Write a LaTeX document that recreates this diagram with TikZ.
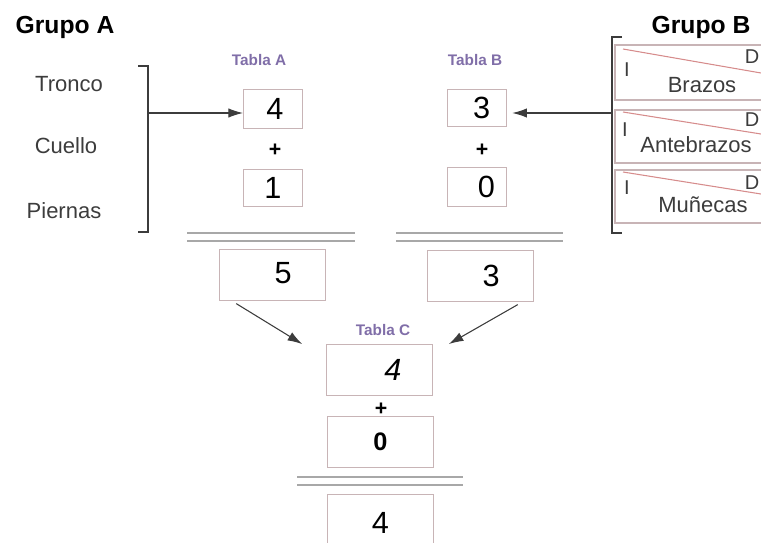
\documentclass[tikz,border=0pt]{standalone}
\usepackage{fontspec}
\setmainfont{Liberation Sans}
\usetikzlibrary{arrows.meta}
\definecolor{boxpink}{RGB}{200,180,182}
\definecolor{tablapurple}{RGB}{128,110,168}
\definecolor{rulegray}{RGB}{168,168,168}
\definecolor{diagred}{RGB}{214,140,140}
\definecolor{labelgray}{RGB}{60,60,60}
\begin{document}
\begin{tikzpicture}[x=0.75pt,y=-0.75pt, line join=miter,
grupo/.style={font=\fontsize{18.5}{20}\selectfont\bfseries,text=black},
parte/.style={font=\fontsize{16.5}{18}\selectfont,text=labelgray},
tabla/.style={font=\fontsize{11.5}{14}\selectfont\bfseries,text=tablapurple},
plus/.style={font=\fontsize{16}{18}\selectfont\bfseries,inner sep=0pt},
numbox/.style={draw=boxpink,line width=0.9pt,minimum width=44pt,minimum height=29pt,inner sep=0pt,font=\fontsize{23}{25}\selectfont},
sumbox/.style={numbox,minimum width=79pt,minimum height=38pt},
bracket/.style={line width=1.6pt,labelgray},
doble/.style={rulegray,line width=2pt},
flecha/.style={-{Latex[length=11pt,width=7pt]},line width=0.8pt,labelgray},
fila/.style={draw=boxpink,line width=0.8pt},
diag/.style={diagred,line width=0.8pt},
lado/.style={font=\fontsize{15}{17}\selectfont,text=labelgray,inner sep=0pt}]
\useasboundingbox (0,0) rectangle (761,543);

% grupo A
\node[grupo] (grupoA) at (65,27) {Grupo A};
\begin{scope}[every node/.style={parte}]
\node (tronco) at (69,84) {Tronco};
\node (cuello) at (66,146) {Cuello};
\node (piernas) at (64,211) {Piernas};
\end{scope}
\draw[bracket] (138,66) -- (148,66) -- (148,232) -- (138,232);
\coordinate (brA) at (148,113);

% grupo B
\node[grupo] (grupoB) at (701,27) {Grupo B};
\draw[fila] (615,45) rectangle (770,100);
\draw[fila] (615,110) rectangle (770,163);
\draw[fila] (615,170) rectangle (770,223);
\draw[diag] (623,49) -- (761,73);
\draw[diag] (623,112) -- (761,134);
\draw[diag] (623,172) -- (761,194);
\begin{scope}[every node/.style={lado}]
\node (i1) at (627,70) {I};
\node (d1) at (752,57) {D};
\node (i2) at (625,130) {I};
\node (d2) at (752,120) {D};
\node (i3) at (627,188) {I};
\node (d3) at (752,183) {D};
\end{scope}
\begin{scope}[every node/.style={parte,font=\fontsize{16.5}{18}\selectfont}]
\node (brazos) at (702,85) {Brazos};
\node (antebrazos) at (696,145) {Antebrazos};
\node (munecas) at (703,205) {Muñecas};
\end{scope}
\draw[bracket] (622,37) -- (612,37) -- (612,233) -- (622,233);
\coordinate (brB) at (612,113);

% tablas A y B
\node[tabla] (tablaA) at (259,60) {Tabla A};
\node[tabla] (tablaB) at (475,60) {Tabla B};
\node[numbox] (a1) at (273,109) {\hspace{3pt}4};
\node[plus] (plusA) at (275,150) {+};
\node[numbox,minimum height=28pt] (a2) at (273,188) {1};
\node[numbox,minimum height=28pt] (b1) at (477,108) {\hspace{7pt}3};
\node[plus] (plusB) at (482,150) {+};
\node[numbox] (b2) at (477,187) {\hspace{14pt}0};
\draw[doble] (187,233) -- (355,233);
\draw[doble] (187,241) -- (355,241);
\draw[doble] (396,233) -- (563,233);
\draw[doble] (396,241) -- (563,241);
\node[sumbox] (sumA) at (272.5,275) {\hspace{16pt}\raisebox{3pt}{5}};
\node[sumbox] (sumB) at (480.5,276) {\hspace{16pt}\raisebox{-5pt}{3}};

% tabla C
\node[tabla] (tablaC) at (383,330) {Tabla C};
\node[sumbox] (c1) at (379.5,370) {\hspace{20pt}\itshape 4};
\node[plus] (plusC) at (381,409) {+};
\node[sumbox,font=\fontsize{19}{21}\selectfont\bfseries] (c2) at (380.5,442) {0};
\draw[doble] (297,477) -- (463,477);
\draw[doble] (297,485) -- (463,485);
\node[sumbox,minimum height=50pt] (c3) at (380.5,528) {\raisebox{8pt}{4}};

% flechas
\draw[flecha] (brA) -- (brA -| a1.west);
\draw[flecha] (brB) -- ([xshift=4pt]brB -| b1.east);
\draw[flecha] ([xshift=12.75pt,yshift=-2pt]sumA.south west) -- ([xshift=-18pt]c1.north west);
\draw[flecha] ([xshift=-12pt,yshift=-2pt]sumB.south east) -- ([xshift=12pt]c1.north east);
\end{tikzpicture}
\end{document}
